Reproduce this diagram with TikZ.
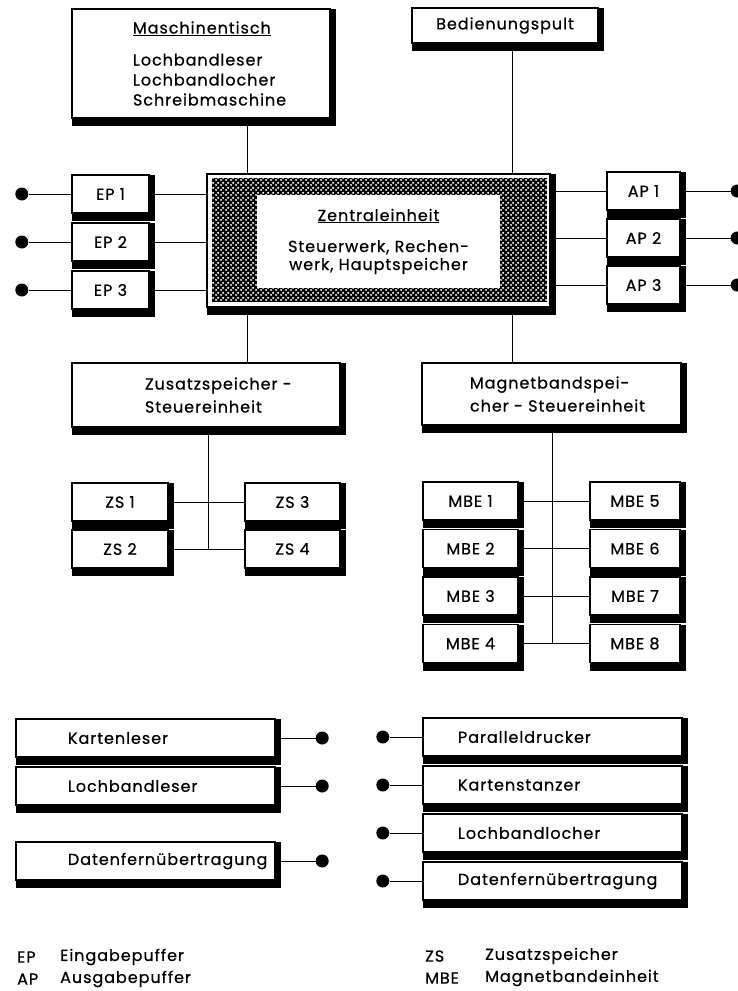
\documentclass[tikz,border=0pt]{standalone}
\usepackage{fontspec}
\setmainfont{Poppins}[LetterSpace=6, FakeBold=0.6]
\usetikzlibrary{positioning, patterns.meta}
\hfuzz=300pt
\hyphenpenalty=10000
\exhyphenpenalty=10000

\tikzdeclarepattern{
  name=whitedots,
  type=uncolored,
  bounding box={(0pt,0pt) and (5pt,5pt)},
  tile size={(5pt,5pt)},
  code={
    \fill (1.25pt,1.25pt) circle [radius=1.3pt];
    \fill (3.75pt,3.75pt) circle [radius=1.3pt];
  }
}

\begin{document}
\begin{tikzpicture}[x=1pt, y=1pt,
    box/.style={draw, fill=white, line width=1.4pt, inner sep=0pt, outer sep=0pt,
      anchor=north west, font=\fontsize{16}{20}\selectfont},
    unit/.style={box, minimum width=77pt, minimum height=38pt},
    device/.style={box, minimum width=259pt, minimum height=38pt, align=left},
    wire/.style={line width=0.9pt},
    plug/.style={circle, fill=black, inner sep=0pt, minimum size=13pt},
    legend/.style={anchor=west, align=left, inner sep=0pt, font=\fontsize{16}{22}\selectfont}]

  \useasboundingbox (0,0) rectangle (737,-991);

  % Zentraleinheit mit Punktraster
  \node[box, minimum width=343pt, minimum height=133pt] (zent) at (207,-174) {};
  \fill[black, postaction={pattern=whitedots, pattern color=white}]
    ([shift={(5,-4)}]zent.north west) rectangle ([shift={(-3,5)}]zent.south east);
  \node[box, draw=none, minimum width=243pt, minimum height=93pt, align=center,
    font=\fontsize{16}{18}\selectfont] (kern) at (257,-195)
    {\underline{Zentraleinheit}\\[13pt]Steuerwerk, Rechen-\\werk, Hauptspeicher};

  % oben
  \node[box, minimum width=258pt, minimum height=109pt, text width=136pt, align=left] (masch) at (72,-9)
    {\underline{Maschinentisch}\\[12pt]Lochbandleser\\Lochbandlocher\\Schreibmaschine};
  \node[box, minimum width=186pt, minimum height=35pt] (bed) at (412,-8) {Bedienungspult};

  % Puffer
  \node[unit] (ep1) at (72,-175) {EP 1};
  \node[unit, below=10pt of ep1] (ep2) {EP 2};
  \node[unit, below=10pt of ep2] (ep3) {EP 3};
  \node[unit, minimum width=73pt] (ap1) at (607,-172) {AP 1};
  \node[unit, minimum width=73pt, below=9pt of ap1] (ap2) {AP 2};
  \node[unit, minimum width=73pt, below=9pt of ap2] (ap3) {AP 3};

  % Steuereinheiten
  \node[box, minimum width=268pt, minimum height=64pt, text width=122pt, align=left] (zss) at (72,-363)
    {Zusatzspeicher~-\\[3pt]Steuereinheit};
  \node[box, minimum width=259pt, minimum height=62pt, text width=163pt, align=left] (mbs) at (422,-363)
    {Magnetbandspei-\\[3pt]cher~-~Steuereinheit};

  % Zusatzspeicher
  \node[unit, minimum width=96pt] (zs1) at (72,-483) {ZS 1};
  \node[unit, minimum width=96pt, below=9pt of zs1] (zs2) {ZS 2};
  \node[unit, minimum width=95pt] (zs3) at (245,-483) {ZS 3};
  \node[unit, minimum width=95pt, below=9pt of zs3] (zs4) {ZS 4};

  % Magnetbandeinheiten
  \node[unit, minimum width=95pt] (mbe1) at (423,-482) {MBE 1};
  \node[unit, minimum width=90pt] (mbe5) at (590,-482) {MBE 5};
  \foreach \i in {2,3,4} {
    \pgfmathtruncatemacro\j{\i-1}
    \pgfmathtruncatemacro\k{\i+4}
    \pgfmathtruncatemacro\l{\i+3}
    \node[unit, minimum width=95pt, below=9.5pt of mbe\j] (mbe\i) {MBE \i};
    \node[unit, minimum width=90pt, below=9.5pt of mbe\l] (mbe\k) {MBE \k};
  }

  % Peripherie
  \node[device, text width=155pt] (kl) at (16,-719) {Kartenleser};
  \node[device, text width=155pt, below=10pt of kl] (lbl) {Lochbandleser};
  \node[device, text width=155pt] (dfl) at (16,-842) {Datenfernübertragung};
  \node[device, text width=189pt] (pd) at (423,-718) {Paralleldrucker};
  \node[device, text width=189pt, below=10pt of pd] (ks) {Kartenstanzer};
  \node[device, text width=189pt, below=10pt of ks] (lbc) {Lochbandlocher};
  \node[device, text width=189pt, below=10pt of lbc] (dfr) {Datenfernübertragung};

  % Anschluesse
  \foreach \n in {1,2,3} {
    \node[plug, left=43.5pt of ep\n] (in\n) {};
    \node[plug, right=50.5pt of ap\n] (out\n) {};
    \draw[wire] (in\n) -- (ep\n);
    \draw[wire] (ep\n) -- (ep\n -| zent.west);
    \draw[wire] (ap\n -| zent.east) -- (ap\n);
    \draw[wire] (ap\n) -- (out\n);
  }
  \foreach \n in {kl,lbl,dfl} {
    \node[plug, right=40.5pt of \n] (p\n) {};
    \draw[wire] (\n) -- (p\n);
  }
  \foreach \n in {pd,ks,lbc,dfr} {
    \node[plug, left=33.5pt of \n] (p\n) {};
    \draw[wire] (p\n) -- (\n);
  }

  % Verbindungen
  \coordinate (busl) at (247,0);
  \coordinate (busr) at (512,0);
  \coordinate (zsbus) at (208,0);
  \coordinate (mbbus) at (552,0);
  \draw[wire] (masch.south -| busl) -- (zent.north -| busl);
  \draw[wire] (bed.south -| busr) -- (zent.north -| busr);
  \draw[wire] (zent.south -| busl) -- (zss.north -| busl);
  \draw[wire] (zent.south -| busr) -- (mbs.north -| busr);
  \draw[wire] (zss.south -| zsbus) -- (zs2 -| zsbus);
  \draw[wire] (zs1) -- (zs3);
  \draw[wire] (zs2) -- (zs4);
  \draw[wire] (mbs.south -| mbbus) -- (mbe4 -| mbbus);
  \foreach \i in {1,...,4} {
    \pgfmathtruncatemacro\k{\i+4}
    \draw[wire] (mbe\i) -- (mbe\k);
  }

  % Schatten
  \foreach \n in {masch,bed,zent,ep1,ep2,ep3,ap1,ap2,ap3,zss,mbs,zs1,zs2,zs3,zs4,
      mbe1,mbe2,mbe3,mbe4,mbe5,mbe6,mbe7,mbe8,kl,lbl,dfl,pd,ks,lbc,dfr} {
    \fill (\n.north east) rectangle ([shift={(6,-8)}]\n.south east);
    \fill (\n.south west) rectangle ([shift={(6,-8)}]\n.south east);
  }

  % Legende
  \node[legend] (abk1) at (17,-968) {EP\\AP};
  \node[legend] (erk1) at (60,-968) {Eingabepuffer\\Ausgabepuffer};
  \node[legend] (abk2) at (425,-967) {ZS\\MBE};
  \node[legend] (erk2) at (485,-967) {Zusatzspeicher\\Magnetbandeinheit};
\end{tikzpicture}
\end{document}
